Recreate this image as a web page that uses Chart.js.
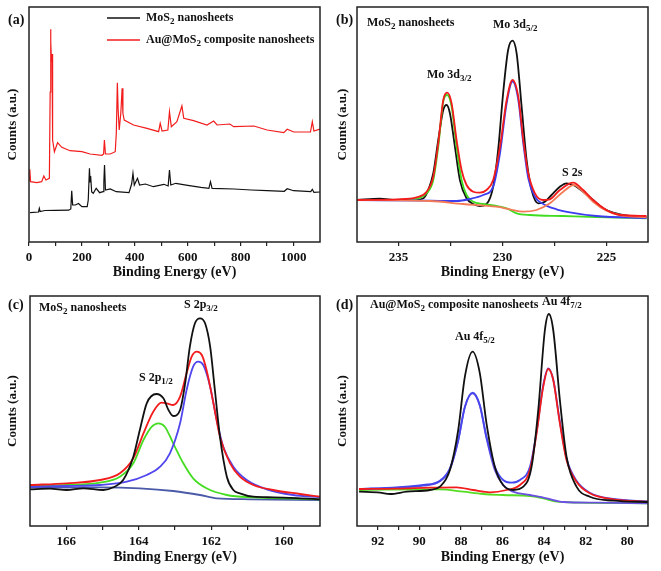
<!DOCTYPE html>
<html>
<head>
<meta charset="utf-8">
<script src="https://cdn.jsdelivr.net/npm/chart.js@4.4.1/dist/chart.umd.min.js"></script>
<style>
  html, body { margin: 0; padding: 0; background: #fff; }
  #fig { position: relative; width: 661px; height: 571px; }
  canvas { position: absolute; }
</style>
</head>
<body>
<div id="fig">
  <canvas id="panelA" width="330" height="285" style="left:0;top:0"></canvas>
  <canvas id="panelB" width="331" height="285" style="left:330px;top:0"></canvas>
  <canvas id="panelC" width="330" height="286" style="left:0;top:285px"></canvas>
  <canvas id="panelD" width="331" height="286" style="left:330px;top:285px"></canvas>
</div>
<script>
// (a) survey spectra, [binding energy, counts]
const surveyMoS2 = [[4,29.3],[36,30],[39,33.7],[42,30.5],[60,31.5],[100,31.7],[150,31.8],[158,33],[161.5,51.3],[165,37],
  [175,37],[187,38.5],[200,35.3],[220,35.3],[224,42],[228.5,73.7],[231,60],[233,66],[237,50],[243,48.7],
  [254,53.7],[267,49.3],[280,50.3],[283,60],[285.5,77],[289,52],[307,53],[330,50.3],[378,49.3],[388,58],
  [393,68.7],[398,57],[410,63.7],[418,57],[440,58],[470,55.3],[510,57.7],[526,56],[531,72],[536,57],
  [555,58.7],[600,56.7],[650,54.7],[680,53.7],[686,60.3],[692,53.7],[775,53],[840,52],[900,51.3],[965,50.7],
  [976,53.3],[1000,51.3],[1065,50.3],[1071,52.7],[1077,49.7],[1100,50]];
const surveyAuMoS2 = [[0,62],[3,72.7],[6,60.3],[29,59.3],[48,60.3],[56,66],[64,62],[77,63.7],[80,150],[81.5,212.7],
  [83,200],[85,180],[87,188],[88.5,150],[90,102],[96,90.3],[108,99.3],[124,94.7],[155,91.3],[200,90.3],
  [231,88],[276,86.7],[282,88],[285,102],[289,88],[307,88],[326,90.3],[330,108.7],[334,159.3],[337,132],
  [341,112],[347,128.7],[352,153.7],[355,128.7],[360,122],[395,117],[446,113.7],[490,110.3],[496,118.7],[503,111],
  [525,112],[531,130.3],[538,115.3],[559,120.3],[578,136],[585,123.7],[622,121.3],[673,117],[698,121],[711,117],
  [759,118],[774,115.3],[850,116],[900,112],[963,109.3],[976,112.7],[1001,110],[1064,110],[1071,120.3],[1077,111],[1100,113]];

// (b) Mo 3d region
const mo3dRaw = [[237.0,42],[235.9,43.3],[235.1,42],[234.3,42],[233.8,43.7],[233.57,52],[233.33,68.7],[233.09,102],[232.85,132],[232.69,137],
  [232.53,128.7],[232.29,95.3],[232.05,62],[231.73,43.7],[231.41,38],[231.09,36],[230.77,38],[230.45,55.3],[230.21,92],[229.97,148.7],
  [229.73,192],[229.52,201.3],[229.32,188.7],[229.08,135.3],[228.84,82],[228.6,52],[228.28,38.7],[227.96,40.3],[227.64,47],[227.24,55.3],
  [226.92,58.7],[226.6,57],[226.12,50.3],[225.64,42],[225.16,33.7],[224.68,29.3],[223.87,26],[223.07,24.7]];
const mo3dFit = [[237.0,42],[235.09,42.7],[234.13,44.7],[233.65,50.3],[233.33,65.3],[233.09,98.7],[232.85,142],[232.66,149.3],[232.45,138.7],[232.21,102],
  [231.97,72],[231.73,57],[231.41,50.3],[231.09,49.3],[230.77,52],[230.45,62],[230.12,95.3],[229.8,142],[229.52,162],[229.24,145.3],
  [229.0,102],[228.76,68.7],[228.44,48.7],[228.04,42],[227.72,42.7],[227.24,52],[226.6,59.3],[226.12,52],[225.64,42],[225.0,32],
  [224.36,27],[223.07,26]];
const mo3d32 = [[237.0,42],[234.29,42.7],[233.65,48.7],[233.33,62],[233.09,95.3],[232.85,140.3],[232.66,147],[232.45,135.3],[232.21,95.3],[231.97,62],
  [231.73,47],[231.41,40.3],[230.93,38],[230.29,36],[229.8,33.7],[229.32,28.7],[228.68,27],[227.08,26],[225.48,25],[223.07,23.7]];
const mo3d52 = [[237.0,42],[233.49,41.3],[232.21,41],[231.57,43],[230.93,47],[230.45,55.3],[230.12,88.7],[229.8,138.7],[229.52,160.3],[229.24,142],
  [229.0,98.7],[228.76,63.7],[228.44,45.3],[228.04,38],[227.4,32.7],[226.76,29.7],[225.48,26],[223.07,24]];
const s2s = [[237.0,42],[233.49,41],[231.89,38],[230.29,35.3],[229.64,32.7],[229.0,30.3],[228.36,32],[227.72,38.7],[227.08,50.3],[226.57,57],
  [226.12,50.3],[225.64,40.3],[225.0,31.3],[224.36,27],[223.07,24.7]];

// (c) S 2p region
const s2pRaw = [[167.0,36.7],[166.45,37.3],[165.99,36],[165.53,37.7],[164.98,36],[164.7,38.7],[164.43,46],[164.15,69.3],[163.97,96],[163.78,122.7],
  [163.51,132],[163.32,127.7],[163.18,116],[163.05,110],[162.86,116],[162.72,142.7],[162.59,179.3],[162.45,202.7],[162.31,207.7],[162.17,202.7],
  [162.03,179.3],[161.9,136],[161.76,89.3],[161.57,49.3],[161.39,36],[161.21,32.7],[160.84,29.3],[160.29,28.7],[159.55,27.7],[159.0,26.7]];
const s2pFit = [[167.0,41],[165.99,42.7],[165.07,46],[164.52,52.7],[164.15,67.7],[163.87,92.7],[163.6,114.3],[163.37,123.3],[163.23,122.7],[163.05,121],
  [162.86,129.3],[162.68,152.7],[162.54,169.3],[162.4,174.3],[162.26,171],[162.13,156],[161.94,122.7],[161.76,89.3],[161.48,62.7],[161.21,49.3],
  [160.84,41],[160.29,36],[159.55,32],[159.0,29.3]];
const s2p12 = [[167.0,40],[165.99,41],[165.07,43.3],[164.52,49.3],[164.15,62.7],[163.87,86],[163.64,99.3],[163.46,102.7],[163.28,99.3],[163.05,82.7],
  [162.77,62.7],[162.5,47.7],[162.13,37.7],[161.57,31],[160.84,28.7],[159.92,27.7],[159.0,26.7]];
const s2p32 = [[167.0,39.3],[165.99,40],[165.07,41],[164.33,44.3],[163.78,51],[163.41,59.3],[163.14,72.7],[162.86,102.7],[162.68,136],[162.5,159.3],
  [162.36,164.3],[162.22,161],[162.03,139.3],[161.85,106],[161.67,79.3],[161.39,59.3],[161.02,46],[160.47,36.7],[159.74,31],[159.0,28.7]];
const s2pBackground = [[167.0,38.3],[165.07,38.7],[163.97,37.7],[163.05,35],[162.31,31],[161.85,27.7],[160.93,26.7],[159.0,26]];

// (d) Au 4f region
const au4fRaw = [[92.9,34.3],[91.89,33.3],[91.41,32],[90.61,34.3],[89.49,36],[89.01,39.3],[88.53,56],[88.13,96],[87.81,149.3],[87.44,174.3],
  [87.09,152.7],[86.77,102.7],[86.37,59.3],[85.97,41],[85.49,36],[85.0,39.3],[84.6,59.3],[84.28,116],[83.96,196],[83.77,212],
  [83.56,196],[83.24,126],[82.92,69.3],[82.44,39.3],[81.8,29.3],[80.68,25.3],[79.0,24]];
const au4f72 = [[92.9,37],[91.09,37.3],[89.49,38.3],[88.21,38.7],[87.41,36],[86.61,33.7],[85.8,36],[85.16,41],[84.68,56],[84.36,92.7],
  [84.04,139.3],[83.8,157],[83.56,146],[83.24,102.7],[82.92,66],[82.44,44.3],[81.8,32.7],[80.68,26.7],[79.0,24.3]];
const au4fFit = [[92.9,37],[91.09,38.7],[89.81,41],[89.01,45.3],[88.53,57.7],[88.13,86],[87.81,119.3],[87.44,133.3],[87.09,121],[86.77,89.3],
  [86.37,59.3],[85.97,46],[85.56,43.3],[85.16,46],[84.68,59.3],[84.36,94.3],[84.04,141],[83.8,157.7],[83.56,146.7],[83.24,104.3],
  [82.92,67.7],[82.44,45.3],[81.8,33.3],[80.68,27],[79.0,24.7]];
const au4f52 = [[92.9,37],[89.81,40.3],[89.01,44.7],[88.53,56.7],[88.13,85.3],[87.81,118.7],[87.44,132.7],[87.09,120],[86.77,87.7],[86.37,56],
  [85.97,41],[85.49,34.3],[84.68,31],[83.88,27.7],[83.08,24],[81.48,23.3],[79.0,22.7]];
const au4fBackground = [[92.9,36],[89.01,36.7],[87.89,34.3],[86.93,32],[85.97,31],[84.68,30],[84.04,27.7],[83.4,24.3],[82.28,23.3],[79.0,22.7]];

// tick positions and which of them get a label
const surveyTicks = [0,100,200,300,400,500,600,700,800,900,1000];
const surveyLabels = [0,200,400,600,800,1000];
const mo3dTicks = [225,227.5,230,232.5,235];
const mo3dLabels = [225,230,235];
const s2pTicks = [160,161,162,163,164,165,166];
const s2pLabels = [160,162,164,166];
const au4fTicks = [80,81,82,83,84,85,86,87,88,89,90,91,92];
const au4fLabels = [80,82,84,86,88,90,92];

const FONT = "'Liberation Serif', 'Times New Roman', serif";
Chart.defaults.font.family = FONT;
Chart.defaults.font.weight = 'bold';
Chart.defaults.color = '#111';

function drawRich(ctx, x, y, text, size) {
  text.split(/(_\{[^}]*\})/).filter(Boolean).forEach(p => {
    const isSub = p.startsWith('_{');
    const t = isSub ? p.slice(2, -1) : p;
    ctx.font = `bold ${isSub ? Math.round(size * 0.72) : size}px ${FONT}`;
    ctx.fillText(t, x, isSub ? y + size * 0.3 : y);
    x += ctx.measureText(t).width;
  });
}

// frame around the plot area plus the panel texts
const notesPlugin = {
  id: 'notes',
  afterDraw(chart, args, opts) {
    const ctx = chart.ctx;
    const a = chart.chartArea;
    ctx.save();
    ctx.strokeStyle = '#222';
    ctx.lineWidth = 1.5;
    ctx.strokeRect(a.left, a.top, a.right - a.left, a.bottom - a.top);
    ctx.fillStyle = '#111';
    ctx.textBaseline = 'middle';
    ctx.textAlign = 'left';
    (opts.items || []).forEach(item => {
      let x = item.x;
      if (item.line) {
        ctx.strokeStyle = item.color;
        ctx.lineWidth = 1.6;
        ctx.beginPath();
        ctx.moveTo(x, item.y);
        ctx.lineTo(x + item.line, item.y);
        ctx.stroke();
        x += item.line + 6;
      }
      drawRich(ctx, x, item.y, item.text, item.size || 12);
    });
    ctx.restore();
  }
};

function makePanel(id, p) {
  const datasets = p.series.map(s => ({
    data: s.data.map(([x, y]) => ({ x, y })),
    borderColor: s.color,
    borderWidth: p.lineWidth,
    pointRadius: 0,
    fill: false,
    tension: p.smooth ? 0.4 : 0,
    cubicInterpolationMode: p.smooth ? 'monotone' : 'default'
  }));
  return new Chart(document.getElementById(id), {
    type: 'line',
    data: { datasets },
    plugins: [notesPlugin],
    options: {
      responsive: false,
      animation: false,
      layout: { autoPadding: false, padding: { left: 0, top: p.top, right: p.right, bottom: 0 } },
      plugins: {
        legend: { display: false },
        tooltip: { enabled: false },
        notes: { items: p.notes }
      },
      scales: {
        x: {
          type: 'linear',
          reverse: !!p.reverse,
          min: p.min,
          max: p.max,
          afterBuildTicks: scale => { scale.ticks = p.ticks.map(v => ({ value: v })); },
          afterFit: scale => { scale.height = p.xHeight; },
          border: { display: false },
          grid: { display: true, drawOnChartArea: false, drawTicks: true, tickLength: 4, color: '#222', lineWidth: 1.2 },
          ticks: {
            autoSkip: false,
            maxRotation: 0,
            padding: 4,
            font: { size: 13, weight: 'bold' },
            callback: v => p.labels.includes(v) ? String(v) : ''
          },
          title: {
            display: true,
            text: 'Binding Energy (eV)',
            font: { size: 14, weight: 'bold' },
            padding: { top: 0, bottom: p.titlePad }
          }
        },
        y: {
          min: 0,
          max: p.yMax,
          afterFit: scale => { scale.width = p.yWidth; },
          border: { display: false },
          grid: { display: false },
          ticks: { display: false },
          title: {
            display: true,
            text: 'Counts (a.u.)',
            font: { size: 13, weight: 'bold' },
            padding: { top: 5, bottom: 0 }
          }
        }
      }
    }
  });
}

makePanel('panelA', {
  min: 0, max: 1100, ticks: surveyTicks, labels: surveyLabels, yMax: 235,
  top: 7, right: 10, yWidth: 29, xHeight: 43, titlePad: 4, smooth: false, lineWidth: 1.2,
  series: [
    { data: surveyAuMoS2, color: '#f21c1c' },
    { data: surveyMoS2, color: '#111111' }
  ],
  notes: [
    { x: 8, y: 20, text: '(a)', size: 14 },
    { x: 107, y: 18, line: 33, color: '#111111', text: 'MoS_{2} nanosheets', size: 12 },
    { x: 107, y: 40, line: 33, color: '#f21c1c', text: 'Au@MoS_{2} composite nanosheets', size: 12 }
  ]
});

makePanel('panelB', {
  min: 223, max: 237, reverse: true, ticks: mo3dTicks, labels: mo3dLabels, yMax: 235,
  top: 7, right: 13, yWidth: 27, xHeight: 43, titlePad: 4, smooth: true, lineWidth: 1.8,
  series: [
    { data: mo3dFit, color: '#f21c1c' },
    { data: s2s, color: '#f47a55' },
    { data: mo3d52, color: '#3d3df0' },
    { data: mo3d32, color: '#3fdc1f' },
    { data: mo3dRaw, color: '#111111' }
  ],
  notes: [
    { x: 6, y: 20, text: '(b)', size: 14 },
    { x: 37, y: 23, text: 'MoS_{2} nanosheets', size: 12 },
    { x: 163, y: 25, text: 'Mo 3d_{5/2}', size: 12 },
    { x: 97, y: 75, text: 'Mo 3d_{3/2}', size: 12 },
    { x: 232, y: 173, text: 'S 2s', size: 12 }
  ]
});

makePanel('panelC', {
  min: 159, max: 167, reverse: true, ticks: s2pTicks, labels: s2pLabels, yMax: 230,
  top: 11, right: 10, yWidth: 30, xHeight: 45, titlePad: 5, smooth: true, lineWidth: 1.8,
  series: [
    { data: s2pRaw, color: '#111111' },
    { data: s2pFit, color: '#f21c1c' },
    { data: s2p32, color: '#5046ee' },
    { data: s2p12, color: '#44dd22' },
    { data: s2pBackground, color: '#4a5aa8' }
  ],
  notes: [
    { x: 8, y: 20, text: '(c)', size: 14 },
    { x: 39, y: 23, text: 'MoS_{2} nanosheets', size: 12 },
    { x: 184, y: 20, text: 'S 2p_{3/2}', size: 12 },
    { x: 139, y: 93, text: 'S 2p_{1/2}', size: 12 }
  ]
});

makePanel('panelD', {
  min: 79, max: 93, reverse: true, ticks: au4fTicks, labels: au4fLabels, yMax: 230,
  top: 11, right: 13, yWidth: 27, xHeight: 45, titlePad: 5, smooth: true, lineWidth: 1.8,
  series: [
    { data: au4fRaw, color: '#111111' },
    { data: au4f72, color: '#f21c1c' },
    { data: au4fFit, color: '#4646ee' },
    { data: au4f52, color: '#6a4fe0' },
    { data: au4fBackground, color: '#55dd22' }
  ],
  notes: [
    { x: 6, y: 20, text: '(d)', size: 14 },
    { x: 40, y: 20, text: 'Au@MoS_{2} composite nanosheets', size: 12 },
    { x: 212, y: 17, text: 'Au 4f_{7/2}', size: 12 },
    { x: 125, y: 52, text: 'Au 4f_{5/2}', size: 12 }
  ]
});
</script>
</body>
</html>
